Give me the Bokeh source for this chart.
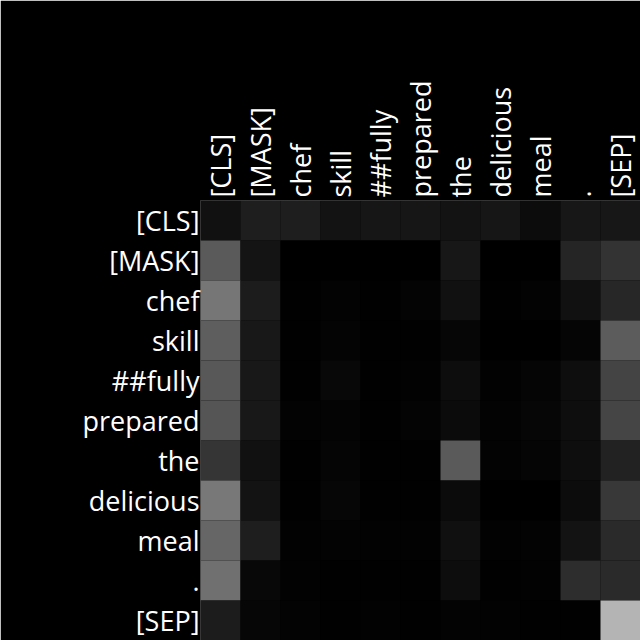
import math
from bokeh.plotting import figure
from bokeh.models import ColumnDataSource, LinearColorMapper, FactorRange
from bokeh.transform import transform
from bokeh.embed import file_html
from bokeh.resources import INLINE

tokens = ["[CLS]", "[MASK]", "chef", "skill", "##fully", "prepared",
          "the", "delicious", "meal", ".", "[SEP]"]

attn_cls = [0.067, 0.118, 0.118, 0.075, 0.086, 0.086, 0.075, 0.086, 0.047, 0.090, 0.090]
attn_mask = [0.353, 0.082, 0.0, 0.0, 0.0, 0.0, 0.090, 0.0, 0.0, 0.145, 0.200]
attn_chef = [0.463, 0.110, 0.004, 0.012, 0.004, 0.016, 0.067, 0.004, 0.012, 0.067, 0.153]
attn_skill = [0.369, 0.094, 0.004, 0.016, 0.004, 0.004, 0.024, 0.0, 0.0, 0.020, 0.361]
attn_fully = [0.345, 0.094, 0.004, 0.035, 0.004, 0.008, 0.051, 0.008, 0.020, 0.055, 0.267]
attn_prepared = [0.333, 0.094, 0.012, 0.016, 0.004, 0.016, 0.043, 0.012, 0.027, 0.055, 0.271]
attn_the = [0.208, 0.067, 0.004, 0.020, 0.004, 0.004, 0.353, 0.012, 0.020, 0.055, 0.133]
attn_delicious = [0.471, 0.078, 0.004, 0.024, 0.004, 0.004, 0.043, 0.0, 0.0, 0.047, 0.220]
attn_meal = [0.400, 0.118, 0.008, 0.012, 0.008, 0.008, 0.063, 0.008, 0.012, 0.078, 0.165]
attn_period = [0.439, 0.035, 0.008, 0.004, 0.004, 0.004, 0.051, 0.004, 0.008, 0.176, 0.165]
attn_sep = [0.110, 0.027, 0.012, 0.004, 0.008, 0.004, 0.012, 0.008, 0.004, 0.004, 0.706]

rows = [attn_cls, attn_mask, attn_chef, attn_skill, attn_fully, attn_prepared,
        attn_the, attn_delicious, attn_meal, attn_period, attn_sep]

qs, ks, ws = [], [], []
for qi, row in enumerate(rows):
    for ki, w in enumerate(row):
        qs.append(tokens[qi])
        ks.append(tokens[ki])
        ws.append(w)

source = ColumnDataSource(dict(query=qs, key=ks, w=ws))

gray = ["#%02x%02x%02x" % (i, i, i) for i in range(256)]
mapper = LinearColorMapper(palette=gray, low=0, high=1)

p = figure(width=640, height=640, output_backend="svg", toolbar_location=None,
           x_range=FactorRange(*tokens), y_range=FactorRange(*list(reversed(tokens))),
           x_axis_location="above",
           min_border_left=200, min_border_top=200, min_border_right=0, min_border_bottom=0)

p.rect(x="key", y="query", width=1, height=1, source=source,
       fill_color=transform("w", mapper), line_color=None)

p.background_fill_color = "black"
p.border_fill_color = "black"
p.outline_line_color = None
p.grid.grid_line_color = None

for ax in (p.xaxis[0], p.yaxis[0]):
    ax.axis_line_color = None
    ax.major_tick_line_color = None
    ax.minor_tick_line_color = None
    ax.major_label_text_color = "white"
    ax.major_label_text_font = "Open Sans"
    ax.major_label_text_font_size = "27px"

p.yaxis[0].major_label_standoff = -5
p.xaxis[0].major_label_orientation = math.pi / 2
p.xaxis[0].major_label_standoff = -3

open("out.html", "w").write(file_html(p, INLINE))
